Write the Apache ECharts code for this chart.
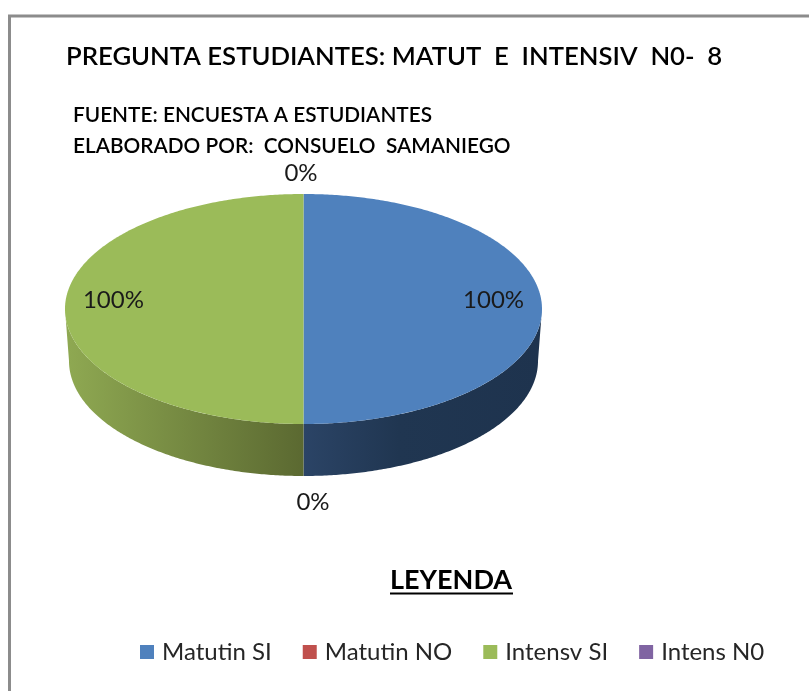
<!DOCTYPE html>
<html><head><meta charset="utf-8">
<style>html,body{margin:0;padding:0;background:#fff}#c{width:809px;height:691px}</style>
<script src="https://cdn.jsdelivr.net/npm/echarts@6/dist/echarts.min.js"></script>
</head><body><div id="c"></div>
<script>
const categories = ['Matutin SI', 'Matutin NO', 'Intensv SI', 'Intens N0'];
const values = [100, 0, 100, 0];
const colors = ['#4f81bd', '#c0504d', '#9bbb59', '#8064a2'];
const chartTitle = 'PREGUNTA ESTUDIANTES: MATUT  E  INTENSIV  N0-  8';
const sourceLines = ['FUENTE: ENCUESTA A ESTUDIANTES', 'ELABORADO POR:  CONSUELO  SAMANIEGO'];
const legendTitle = 'LEYENDA';

const FONT = 'Lato';
const total = values.reduce((a, b) => a + b, 0);
const geo = { cx: 303.5, cy: 309, rx: 238.5, ry: 115, depth: 52, rxBottom: 234.5 };
const wallGradients = {
  0: [{ offset: 0, color: '#2b4466' }, { offset: 0.4, color: '#203651' }, { offset: 1, color: '#1e334e' }],
  2: [{ offset: 0, color: '#8fa952' }, { offset: 1, color: '#5b6931' }]
};
const zeroLabelPos = { 1: { x: 313, y: 502 }, 3: { x: 301, y: 173 } };

function pt(theta, rx, ry, cy) {
  return [geo.cx + rx * Math.sin(theta), cy - ry * Math.cos(theta)];
}
function arc(a, b, rx, ry, cy) {
  const n = Math.max(2, Math.ceil(Math.abs(b - a) / 0.01));
  const out = [];
  for (let i = 0; i <= n; i++) out.push(pt(a + (b - a) * i / n, rx, ry, cy));
  return out;
}
function sliceRange(idx) {
  let before = 0;
  for (let i = 0; i < idx; i++) before += values[i];
  return [before / total * 2 * Math.PI, (before + values[idx]) / total * 2 * Math.PI];
}
function renderSlice(idx) {
  return function (params, api) {
    const v = api.value(0);
    const [a, b] = sliceRange(idx);
    const color = api.visual('color');
    const children = [];
    if (v > 0) {
      const wa = Math.max(a, Math.PI / 2), wb = Math.min(b, 3 * Math.PI / 2);
      if (wb > wa) {
        const top = arc(wa, wb, geo.rx, geo.ry, geo.cy);
        const bot = arc(wb, wa, geo.rxBottom, geo.ry, geo.cy + geo.depth);
        children.push({
          type: 'polygon', shape: { points: top.concat(bot) },
          style: { fill: new echarts.graphic.LinearGradient(0, 0, 1, 0, wallGradients[idx]) }
        });
      }
      const wedge = [[geo.cx, geo.cy]].concat(arc(a, b, geo.rx, geo.ry, geo.cy));
      children.push({ type: 'polygon', shape: { points: wedge }, style: { fill: color } });
    }
    let lx, ly;
    if (v > 0) {
      const p = pt((a + b) / 2, geo.rx * 0.797, geo.ry, geo.cy);
      lx = p[0]; ly = p[1] - 9;
    } else {
      lx = zeroLabelPos[idx].x; ly = zeroLabelPos[idx].y;
    }
    children.push({
      type: 'text', z2: 10, x: lx, y: ly,
      style: { text: v + '%', fill: '#1a1a1a', font: '24px ' + FONT, align: 'center', verticalAlign: 'middle' }
    });
    return { type: 'group', children };
  };
}

const chart = echarts.init(document.getElementById('c'), null, { renderer: 'canvas' });
chart.setOption({
  animation: false,
  backgroundColor: '#fff',
  title: {
    text: chartTitle, left: 66, top: 44, padding: 0,
    textStyle: { fontFamily: FONT, fontSize: 25.7, fontWeight: 600, color: '#000' }
  },
  legend: {
    left: 140, top: 640, itemWidth: 14, itemHeight: 14, itemGap: 31, icon: 'rect', padding: 0,
    data: categories,
    textStyle: { fontFamily: FONT, fontSize: 24, color: '#262626', padding: [0, 0, 0, 3] }
  },
  graphic: [
    { type: 'polyline', shape: { points: [[9.5, 691], [9.5, 16], [809, 16]] }, style: { stroke: '#8c8c8c', lineWidth: 3, fill: null } },
    { type: 'text', x: 73, y: 115, style: { text: sourceLines[0], font: '600 20.8px ' + FONT, fill: '#000', verticalAlign: 'middle' } },
    { type: 'text', x: 73, y: 146, style: { text: sourceLines[1], font: '600 20.8px ' + FONT, fill: '#000', verticalAlign: 'middle' } },
    { type: 'text', x: 390, y: 580, style: { text: legendTitle, font: '700 27px ' + FONT, fill: '#000', verticalAlign: 'middle' } },
    { type: 'line', shape: { x1: 390, y1: 593.5, x2: 513, y2: 593.5 }, style: { stroke: '#000', lineWidth: 2 } }
  ],
  series: categories.map((name, i) => ({
    type: 'custom', name, coordinateSystem: 'none',
    itemStyle: { color: colors[i] },
    renderItem: renderSlice(i),
    data: [[values[i]]]
  }))
});
</script></body></html>
